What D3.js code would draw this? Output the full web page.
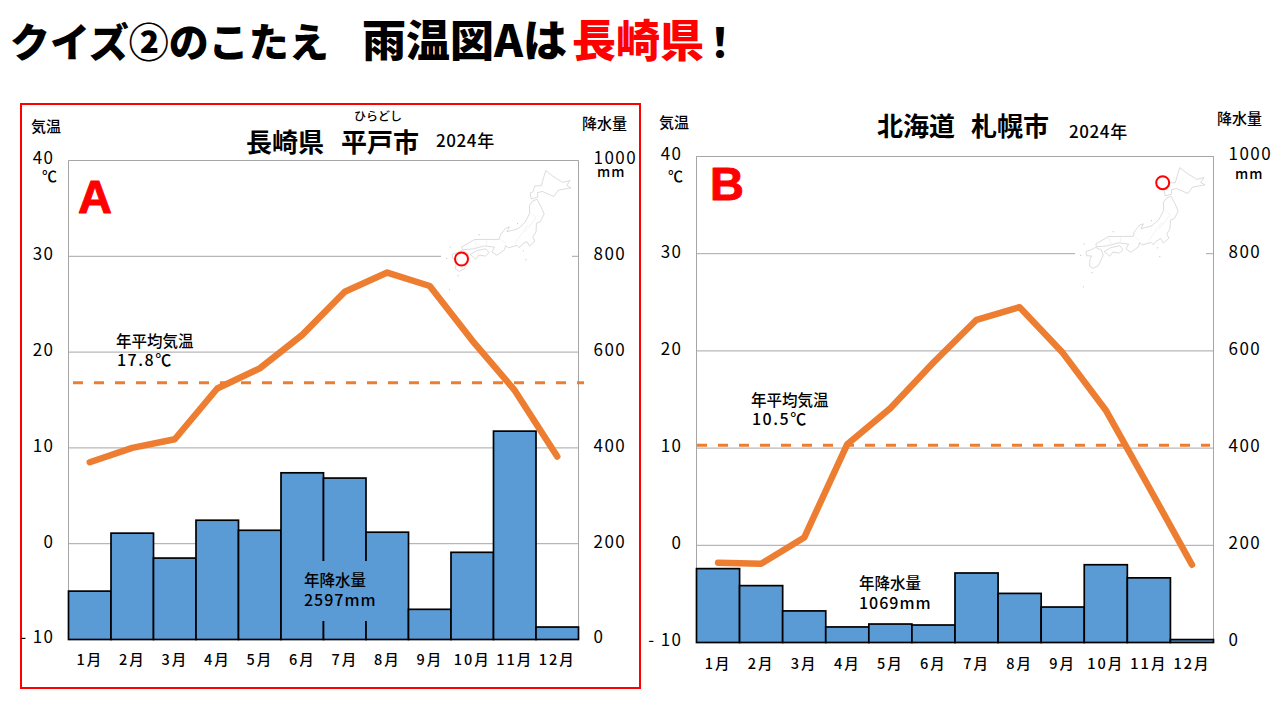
<!DOCTYPE html>
<html lang="ja">
<head>
<meta charset="utf-8">
<style>
  html, body { margin: 0; background: #fff; }
  svg { display: block; }
  text { font-family: "Noto Sans CJK JP", "Noto Sans", sans-serif; fill: #000; }
  .tick text { font-size: 17px; letter-spacing: 1.5px; }
  .month .tick text { font-size: 14.5px; letter-spacing: 2px; font-weight: 500; }
</style>
<script src="https://cdn.jsdelivr.net/npm/d3@7"></script>
</head>
<body>
<svg width="1280" height="720"></svg>
<script>
const months = ["1月", "2月", "3月", "4月", "5月", "6月", "7月", "8月", "9月", "10月", "11月", "12月"];
const tempTicks = [-10, 0, 10, 20, 30, 40];
const rainTicks = [0, 200, 400, 600, 800, 1000];

const tempA = [8.5, 10.0, 10.9, 16.2, 18.3, 21.8, 26.3, 28.3, 26.9, 21.2, 16.0, 9.1];
const rainA = [101, 222, 170, 249, 228, 348, 337, 224, 63, 182, 435, 26];
const meanLineA = 16.8;

const tempB = [-1.8, -1.9, 0.8, 10.4, 14.1, 18.8, 23.2, 24.5, 19.8, 13.9, 6.0, -2.0];
const rainB = [152, 117, 65, 32, 38, 36, 143, 101, 73, 160, 133, 6];
const meanLineB = 10.3;

// rough outlines of the main islands, lon/lat
const hokkaido = [[140.1,41.5],[141.0,41.8],[140.9,42.4],[141.6,42.6],[143.2,42.0],[143.8,42.9],[145.5,43.3],[144.9,43.6],[145.3,44.3],[144.3,44.0],[142.9,44.8],[141.9,45.5],[141.7,44.7],[141.4,43.4],[140.5,43.3],[140.3,42.5],[139.9,42.3],[140.1,41.5]];
const honshu = [[140.9,41.5],[141.5,40.5],[142.0,39.5],[141.5,38.4],[141,38.2],[141,37],[140.6,36.3],[140.9,35.7],[140.2,35],[139.8,35.6],[139.2,35.2],[138.8,34.7],[138.5,35],[137.3,34.6],[136.9,34.9],[136.8,34.3],[135.8,33.5],[135.1,33.9],[135.4,34.6],[134,34.7],[132.5,34.2],[131,34],[130.9,34.4],[132.6,35.5],[134.3,35.6],[136,35.7],[136.1,36.3],[136.8,37.3],[137.3,37.5],[137,36.8],[138.5,37.3],[139.4,38.2],[140,39.5],[139.9,40.6],[140.3,41.2],[140.9,41.5]];
const shikoku = [[132.1,33.4],[133,34],[134.2,34.3],[134.7,33.8],[134.2,33.3],[133.3,33.4],[132.9,32.8],[132.4,33.2],[132.1,33.4]];
const kyushu = [[130.9,33.9],[131.7,33.6],[132,32.9],[131.4,31.4],[130.7,31],[130.2,31.3],[130.2,32.2],[130.4,32.7],[129.7,32.7],[129.6,33.3],[130.4,33.6],[130.9,33.9]];
const inland = [[[139.9,37.9],[138.8,36.3],[138.2,35.2]], [[136.2,35.7],[136.9,35.2]], [[134.3,35.5],[134.3,34.7]], [[132.6,35.4],[133.1,34.3]], [[140.3,39.5],[140.9,38.9],[140.2,37.9],[139.5,36.9]]];
const islets = [[129.3,34.3],[128.9,32.7],[130.6,30.4],[129.5,28.4],[139.4,34.3],[139.8,33.1],[138.4,38.0],[133.2,36.2]];

const panelA = {
  temp: tempA, rain: rainA, mean: meanLineA,
  left: 68.5, right: 578.5, top: 160.5, bottom: 639.5,
  tempTitle: [31, 132], rainTitle: [582, 129],
  letter: ["A", 78, 213], unit: [42, 182], mm: [597, 177],
  place: [["長崎県", 246, 152], ["平戸市", 341, 152]], year: [436, 147], ruby: ["ひらどし", 354, 121],
  meanText: ["年平均気温", "17.8℃", 116, 347, 366], meanRange: [73, 584],
  rainText: ["年降水量", "2597mm", 304, 586, 606], rainBox: true,
  map: [452, 165], mapBox: [441, 163, 131, 122], circle: [461.5, 259],
  monthY: 660
};
const panelB = {
  temp: tempB, rain: rainB, mean: meanLineB,
  left: 696.5, right: 1213.5, top: 156.5, bottom: 642.5,
  tempTitle: [659, 128], rainTitle: [1217, 124],
  letter: ["B", 710, 200], unit: [668, 182], mm: [1235, 179],
  place: [["北海道", 877, 136], ["札幌市", 971, 136]], year: [1069, 138],
  meanText: ["年平均気温", "10.5℃", 751, 406, 425], meanRange: [697, 1210],
  rainText: ["年降水量", "1069mm", 859, 589, 609], rainBox: false,
  map: [1086, 162], mapBox: [1075, 160, 131, 122], circle: [1162.7, 182.7],
  monthY: 664
};

const svg = d3.select("svg");

// headline
const headline = svg.append("g").attr("font-weight", 900);
[["クイズ②のこたえ", 10, "#000", 40], ["雨温図Aは", 362, "#000", 44], ["長崎県", 572, "#f00", 44], ["！", 700, "#000", 40]].forEach((d) => {
  headline.append("text").attr("x", d[1]).attr("y", 57).attr("font-size", d[3]).style("fill", d[2]).text(d[0]);
});

// red frame round the answer
svg.append("rect")
  .attr("x", 21).attr("y", 104).attr("width", 619).attr("height", 584)
  .attr("fill", "none").attr("stroke", "#f00").attr("stroke-width", 2);

function label(g, str, x, y, size, weight) {
  return g.append("text").attr("x", x).attr("y", y).attr("font-size", size).attr("font-weight", weight || 500).text(str);
}

function drawPanel(p) {
  const g = svg.append("g");

  const xBand = d3.scaleBand().domain(months).range([p.left, p.right]);
  const yTemp = d3.scaleLinear().domain([-10, 40]).range([p.bottom, p.top]);
  const yRain = d3.scaleLinear().domain([0, 1000]).range([p.bottom, p.top]);

  // grid and frame
  g.selectAll("line.grid")
    .data(tempTicks)
    .enter()
    .append("line")
    .attr("class", "grid")
    .attr("x1", p.left).attr("x2", p.right)
    .attr("y1", (d) => yTemp(d)).attr("y2", (d) => yTemp(d))
    .attr("stroke", "#a6a6a6");
  g.append("path")
    .attr("d", `M${p.left},${p.bottom}V${p.top}H${p.right}V${p.bottom}`)
    .attr("fill", "none").attr("stroke", "#a6a6a6");

  // small map of Japan on a white patch
  g.append("rect")
    .attr("x", p.mapBox[0]).attr("y", p.mapBox[1]).attr("width", p.mapBox[2]).attr("height", p.mapBox[3])
    .attr("fill", "#fff");
  const outline = { type: "MultiLineString", coordinates: [hokkaido, honshu, shikoku, kyushu] };
  const projection = d3.geoEquirectangular()
    .angle(-3)
    .fitExtent([[p.map[0], p.map[1]], [p.map[0] + 119, p.map[1] + 112]], outline);
  const geo = d3.geoPath(projection);
  g.append("path").datum(outline).attr("d", geo).attr("fill", "none").attr("stroke", "#c4c4c4").attr("stroke-width", 0.6);
  g.append("path").datum({ type: "MultiLineString", coordinates: inland }).attr("d", geo).attr("fill", "none").attr("stroke", "#e6e6e6").attr("stroke-width", 0.5);
  g.selectAll("circle.islet")
    .data(islets)
    .enter()
    .append("circle")
    .attr("class", "islet")
    .attr("cx", (d) => projection(d)[0]).attr("cy", (d) => projection(d)[1])
    .attr("r", 0.6).attr("fill", "#c4c4c4");
  g.append("circle")
    .attr("cx", p.circle[0]).attr("cy", p.circle[1]).attr("r", 6.5)
    .attr("fill", "none").attr("stroke", "#f00").attr("stroke-width", 2);

  // rainfall bars
  g.selectAll("rect.bar")
    .data(p.rain)
    .enter()
    .append("rect")
    .attr("class", "bar")
    .attr("x", (d, i) => xBand(months[i]))
    .attr("y", (d) => yRain(d))
    .attr("width", xBand.bandwidth())
    .attr("height", (d) => yRain(0) - yRain(d))
    .attr("fill", "#5b9bd5")
    .attr("stroke", "#000")
    .attr("stroke-width", 1.7);

  if (p.rainBox) {
    g.append("rect")
      .attr("x", 300).attr("y", 561).attr("width", 80).attr("height", 60)
      .attr("fill", "#5b9bd5");
  }

  // yearly mean
  g.append("line")
    .attr("x1", p.meanRange[0]).attr("x2", p.meanRange[1])
    .attr("y1", yTemp(p.mean)).attr("y2", yTemp(p.mean))
    .attr("stroke", "#ed7d31").attr("stroke-width", 3).attr("stroke-dasharray", "10 11");

  // temperature
  const lineGenerator = d3.line()
    .x((d, i) => xBand(months[i]) + xBand.bandwidth() / 2)
    .y((d) => yTemp(d));
  g.append("path")
    .datum(p.temp)
    .attr("d", lineGenerator)
    .attr("fill", "none")
    .attr("stroke", "#ed7d31")
    .attr("stroke-width", 6.5)
    .attr("stroke-linecap", "round")
    .attr("stroke-linejoin", "round");

  // axes
  const axisLeft = g.append("g")
    .attr("transform", `translate(${p.left},-2)`)
    .call(d3.axisLeft(yTemp).tickValues(tempTicks).tickSize(0).tickPadding(14)
      .tickFormat((d) => (d < 0 ? `-\u2009${-d}` : d)));
  axisLeft.select(".domain").remove();

  const axisRight = g.append("g")
    .attr("transform", `translate(${p.right},-2)`)
    .call(d3.axisRight(yRain).tickValues(rainTicks).tickSize(0).tickPadding(15).tickFormat((d) => d));
  axisRight.select(".domain").remove();

  const axisMonth = g.append("g")
    .attr("class", "month")
    .attr("transform", `translate(0,${p.monthY - 5})`)
    .call(d3.axisBottom(xBand).tickSize(0).tickPadding(0));
  axisMonth.select(".domain").remove();

  // labels
  label(g, "気温", p.tempTitle[0], p.tempTitle[1], 15);
  label(g, "降水量", p.rainTitle[0], p.rainTitle[1], 15);
  label(g, "℃", p.unit[0], p.unit[1], 15);
  label(g, "mm", p.mm[0], p.mm[1], 14).attr("letter-spacing", 1);
  p.place.forEach((d) => label(g, d[0], d[1], d[2], 26, 700));
  label(g, "2024年", p.year[0], p.year[1], 17).attr("letter-spacing", 0.6);
  if (p.ruby) label(g, p.ruby[0], p.ruby[1], p.ruby[2], 12);
  label(g, p.meanText[0], p.meanText[2], p.meanText[3], 15.5);
  label(g, p.meanText[1], p.meanText[2] + 1, p.meanText[4], 16).attr("letter-spacing", 1.5);
  label(g, p.rainText[0], p.rainText[2], p.rainText[3], 15.5);
  label(g, p.rainText[1], p.rainText[2], p.rainText[4], 16).attr("letter-spacing", 1);
  label(g, p.letter[0], p.letter[1], p.letter[2], 47, 700)
    .style("fill", "#f00")
    .style("font-family", "'Liberation Sans', sans-serif")
    .attr("stroke", "#f00").attr("stroke-linejoin", "round");
}

drawPanel(panelA);
drawPanel(panelB);
</script>
</body>
</html>
